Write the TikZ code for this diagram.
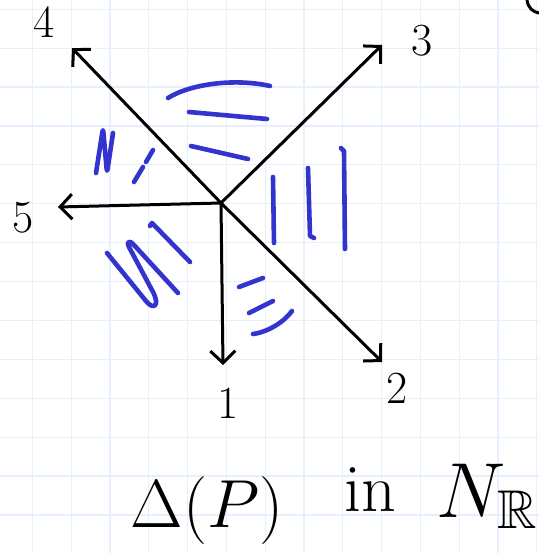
\RequirePackage{fix-cm}
\documentclass[tikz,border=0pt]{standalone}
\usepackage{amsmath,amssymb}
\usepackage{xcolor}
\usepackage{tikz}
\usetikzlibrary{arrows.meta}
\definecolor{gridblue}{RGB}{230,240,252}
\definecolor{penblue}{RGB}{50,52,205}
\begin{document}
\begin{tikzpicture}[x=0.5pt,y=-0.5pt,line cap=round,line join=round,
  ray/.style={line width=1.5pt,-{Straight Barb[length=6pt,width=12.5pt,line width=1.5pt]}},
  hatch/.style={penblue,line width=2.3pt},
  lbl/.style={font=\fontsize{23}{25}\selectfont,inner sep=0pt},
  captext/.style={font=\fontsize{34}{36}\selectfont,inner sep=0pt}]
  % paper with grid
  \useasboundingbox (0,0) rectangle (539,553);
  \fill[white] (0,0) rectangle (539,553);
  \foreach \i in {0,...,13}
    \draw[gridblue,line width=0.6pt] ({32.4+38.8*\i},0) -- ({32.4+38.8*\i},553);
  \foreach \j in {0,...,14}
    \draw[gridblue,line width=0.6pt] (0,{9.2+38.9*\j}) -- (539,{9.2+38.9*\j});
  % rays of the fan
  \coordinate (o) at (221,203);
  \foreach \n/\tx/\ty/\lx/\ly in {1/223/365/228/403, 2/382/362/397/388,
      3/382/45/422/41, 4/72/48/44/22, 5/58/207/23/218} {
    \coordinate (t\n) at (\tx,\ty);
    \node[lbl] (l\n) at (\lx,\ly) {\n};
    \draw[ray] (o) -- (t\n);
  }
  % cone between 4 and 3
  \draw[hatch] (168,98) .. controls (190,84) and (235,78) .. (270,86);
  \draw[hatch] (189,112) -- (267,119);
  \draw[hatch] (191,146) -- (248,159);
  % cone between 4 and 5
  \draw[hatch,rounded corners=2pt] (96,173) -- (103,128) -- (107,173) -- (113,133);
  \draw[hatch] (153,150) -- (146,162);
  \draw[hatch] (143,167) -- (134,182);
  % cone between 5 and 1
  \draw[hatch] (107,253) -- (146,301) .. controls (154,311) and (160,305) .. (153,292)
    -- (129,247) .. controls (126,241) and (130,240) .. (134,245) -- (178,293);
  \draw[hatch] (150,226) -- (152,223) -- (190,262);
  % cone between 3 and 2
  \draw[hatch] (273,177) -- (274,243);
  \draw[hatch] (308,168) -- (310,236) -- (314,238);
  \draw[hatch] (341,148) -- (344,151) -- (345,249);
  % cone between 1 and 2
  \draw[hatch] (239,287) -- (263,278);
  \draw[hatch] (249,313) -- (273,301);
  \draw[hatch] (253,334) .. controls (268,332) and (284,322) .. (292,311);
  % cut off stroke at the corner
  \draw[line width=1.5pt] (527,0) .. controls (528,8) and (533,12) .. (539,13);
  % caption
  \node[captext,anchor=base] (delta) at (207,527) {$\Delta(P)$};
  \node[captext,anchor=base] (in) at (370,511) {in};
  \node[captext,font=\fontsize{39}{41}\selectfont,anchor=base west] (nr) at (436,517) {$N_{\mathbb{R}}$};
\end{tikzpicture}
\end{document}
